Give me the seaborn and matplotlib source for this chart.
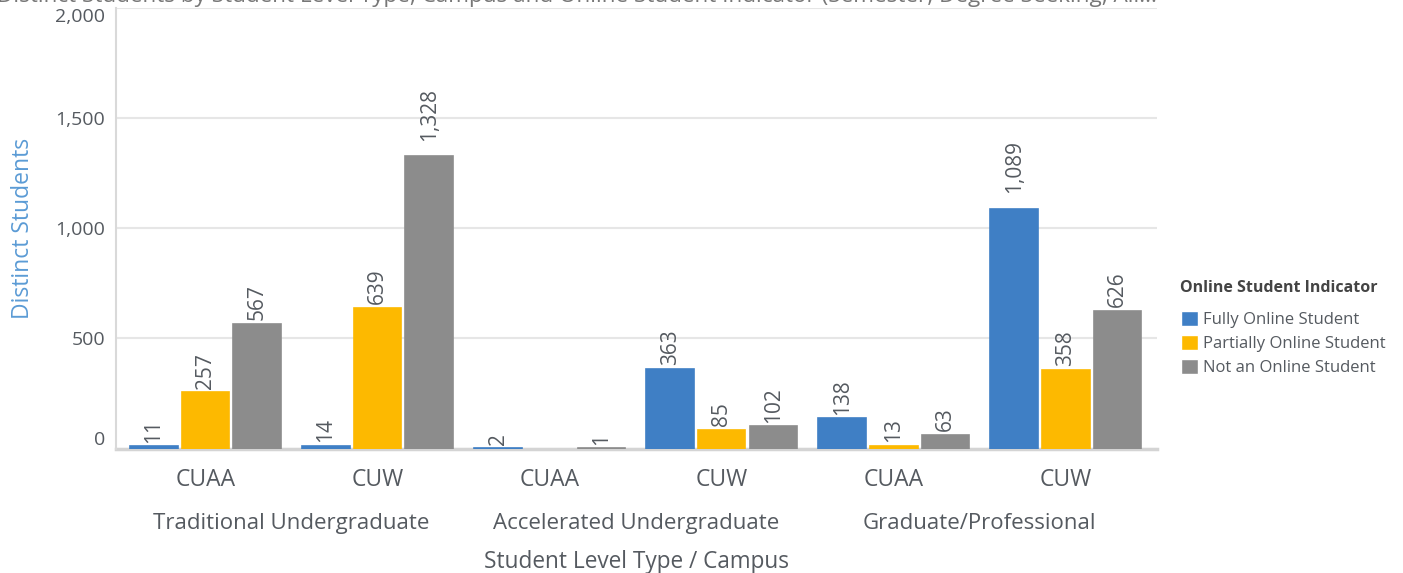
import pandas as pd
import matplotlib
matplotlib.use("Agg")
import matplotlib.pyplot as plt
import seaborn as sns
import numpy as np

# -----------------------------
# DATA
# -----------------------------
levels = ["Traditional Undergraduate", "Traditional Undergraduate",
          "Accelerated Undergraduate", "Accelerated Undergraduate",
          "Graduate/Professional", "Graduate/Professional"]
campuses = ["CUAA", "CUW", "CUAA", "CUW", "CUAA", "CUW"]
indicators = ["Fully Online Student", "Partially Online Student", "Not an Online Student"]

fully_online = [11, 14, 2, 363, 138, 1089]
partially_online = [257, 639, np.nan, 85, 13, 358]
not_online = [567, 1328, 1, 102, 63, 626]

colors = ["#3F7FC5", "#FDB900", "#8C8C8C"]

# -----------------------------
# BUILD TABLE
# -----------------------------
keys = [f"{l}|{c}" for l, c in zip(levels, campuses)]
rows = []
for name, vals in zip(indicators, [fully_online, partially_online, not_online]):
    for k, v in zip(keys, vals):
        rows.append({"key": k, "Online Student Indicator": name, "value": v})
df = pd.DataFrame(rows).dropna()

# -----------------------------
# PLOT
# -----------------------------
sns.set_style("white")
plt.rcParams["font.family"] = ["Open Sans", "DejaVu Sans"]

fig = plt.figure(figsize=(14.03, 5.73), dpi=100)
ax = fig.add_axes([0.0827, 0.217, 0.742, 0.769])

sns.barplot(data=df, x="key", y="value", hue="Online Student Indicator",
            order=keys, hue_order=indicators, palette=colors,
            width=0.9, gap=0.08, ax=ax, legend=True, saturation=1)

# thin edge in the bar colour so tiny bars still show
for cont, col in zip(ax.containers, colors):
    for b in cont:
        b.set_edgecolor(col)
        b.set_linewidth(1.2)
        b.set_zorder(3)

text_gray = "#555a60"
for cont in ax.containers:
    for b in cont:
        h = b.get_height()
        lab = f"{h:,.0f}"
        pad = 11 if h >= 1000 else 2.5
        ax.annotate(lab, (b.get_x() + b.get_width() / 2, h),
                    xytext=(0, pad), textcoords="offset points",
                    rotation=90, ha="center", va="bottom",
                    fontsize=15, color=text_gray)

ax.set_ylim(0, 2000)
ax.set_xlim(-0.52, 5.53)
ax.set_yticks([0, 500, 1000, 1500, 2000])
ax.set_yticklabels(["0", "500", "1,000", "1,500", "2,000"])
ax.set_xticks(range(len(keys)))
ax.set_xticklabels(campuses)
ax.tick_params(axis="x", length=0, pad=14, labelsize=16.5, colors=text_gray)
ax.tick_params(axis="y", length=0, pad=8, labelsize=14, colors=text_gray)
ylabs = ax.get_yticklabels()
ylabs[0].set_verticalalignment("bottom")
ylabs[-1].set_verticalalignment("top")

ax.yaxis.grid(True, color="#e6e6e6", linewidth=1.5)
ax.set_axisbelow(True)
for s in ["top", "right"]:
    ax.spines[s].set_visible(False)
ax.spines["left"].set_color("#d9d9d9")
ax.spines["left"].set_linewidth(1.5)
ax.spines["bottom"].set_color("#d4d4d4")
ax.spines["bottom"].set_linewidth(2.5)
ax.spines["bottom"].set_zorder(1)

ax.set_xlabel("")
ax.set_ylabel("Distinct Students", color="#5b9bd5", fontsize=16.5)
ax.yaxis.set_label_coords(-0.078, 0.5)

# group labels under the campus labels
group_names = ["Traditional Undergraduate", "Accelerated Undergraduate", "Graduate/Professional"]
for i, g in enumerate(group_names):
    ax.text(2 * i + 0.5, -0.17, g, transform=ax.get_xaxis_transform(),
            ha="center", va="center", fontsize=16, color=text_gray)
ax.text(0.5, -0.258, "Student Level Type / Campus", transform=ax.transAxes,
        ha="center", va="center", fontsize=16.3, color=text_gray)

# legend (title drawn separately to get the wider gap)
handles, labels = ax.get_legend_handles_labels()
ax.legend_.remove()
fig.text(1180 / 1403, 1 - 288 / 573, "Online Student Indicator", ha="left", va="center",
         fontsize=11.5, fontweight="bold", color="#444444")
leg = fig.legend(handles, labels, loc="upper left", bbox_to_anchor=(0.831, 0.4835),
                 frameon=False, fontsize=12, handlelength=1.0, handleheight=1.0,
                 handletextpad=0.35, labelspacing=0.42)
for t in leg.get_texts():
    t.set_color(text_gray)

# title, clipped at the top edge like the reference
fig.text(-0.002, 1.006, "Distinct Students by Student Level Type, Campus and Online Student Indicator "
         "(Semester, Degree Seeking, All...", ha="left", va="center", fontsize=16.2, color="#777777")

fig.savefig("out.png", dpi=100)
